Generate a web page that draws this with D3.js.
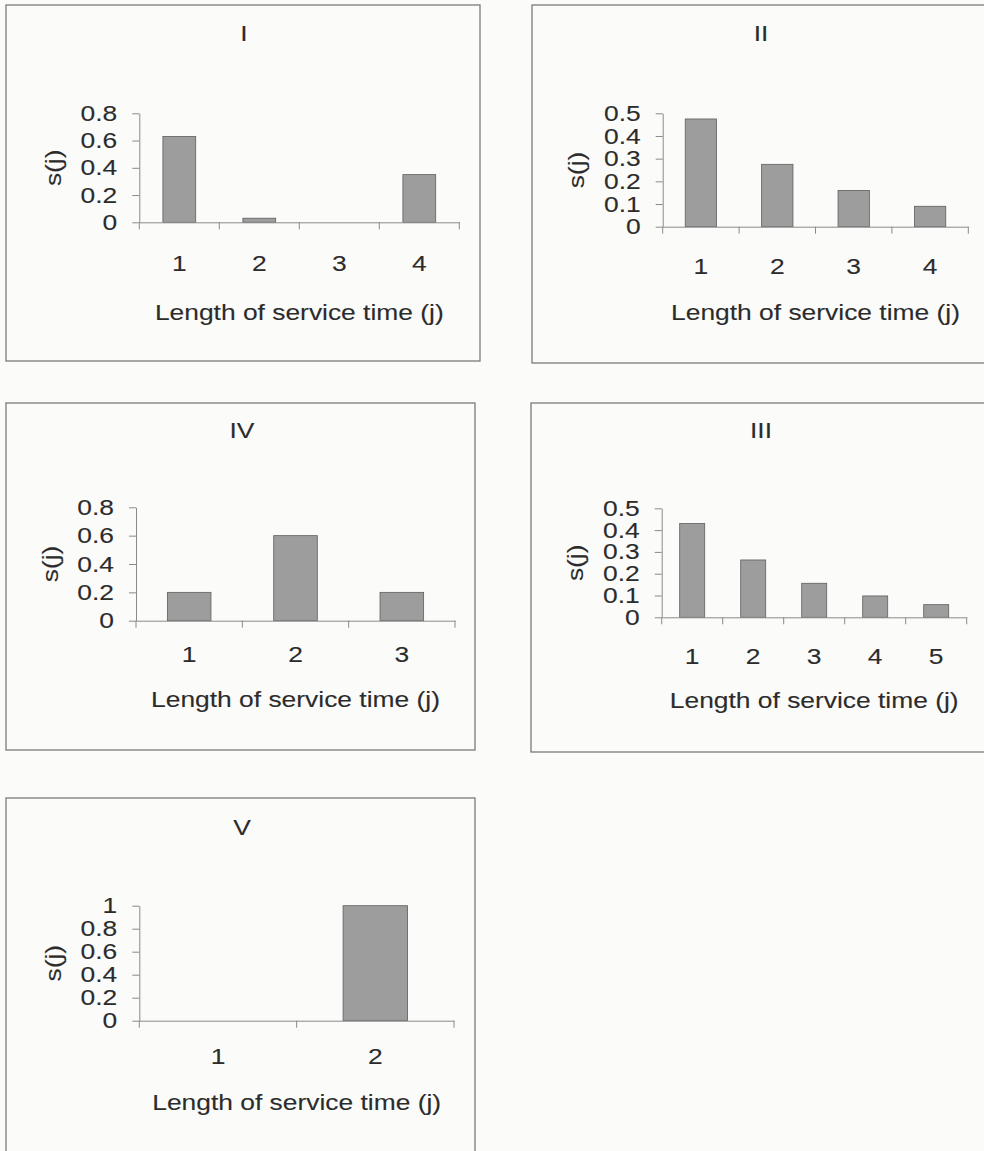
<!DOCTYPE html>
<html>
<head>
<meta charset="utf-8">
<script src="https://cdn.jsdelivr.net/npm/d3@7"></script>
<style>
  html, body { margin: 0; padding: 0; background: #fbfbfa; }
  svg { display: block; }
  text { font-family: "Liberation Sans", Arial, sans-serif; fill: #2b2b2b; stroke: #3a3a3a; stroke-width: 0.12px; }
</style>
</head>
<body>
<svg id="chart" width="984" height="1151"></svg>
<script>
// ---- data ----
const panelTitles = ["I", "II", "III", "IV", "V"];
const categoriesI = ["1", "2", "3", "4"];
const valuesI = [0.63, 0.03, 0, 0.35];
const ticksI = [0, 0.2, 0.4, 0.6, 0.8];

const categoriesII = ["1", "2", "3", "4"];
const valuesII = [0.475, 0.275, 0.16, 0.09];
const ticksII = [0, 0.1, 0.2, 0.3, 0.4, 0.5];

const categoriesIII = ["1", "2", "3", "4", "5"];
const valuesIII = [0.43, 0.263, 0.156, 0.098, 0.058];
const ticksIII = [0, 0.1, 0.2, 0.3, 0.4, 0.5];

const categoriesIV = ["1", "2", "3"];
const valuesIV = [0.2, 0.6, 0.2];
const ticksIV = [0, 0.2, 0.4, 0.6, 0.8];

const categoriesV = ["1", "2"];
const valuesV = [0, 1];
const ticksV = [0, 0.2, 0.4, 0.6, 0.8, 1];

const xAxisTitle = "Length of service time (j)";
const yAxisTitle = "s(j)";

// ---- layout (positions only) ----
const layout = [
  { title: panelTitles[0], cats: categoriesI, vals: valuesI, ticks: ticksI,
    frame: [6, 5, 474, 356], titleX: 244, titleY: 33,
    x0: 139.3, x1: 459.3, yTop: 113.3, yBot: 222.3, labPad: 33, axTitleOff: 90 },
  { title: panelTitles[1], cats: categoriesII, vals: valuesII, ticks: ticksII,
    frame: [532, 5, 460, 358], titleX: 761, titleY: 33,
    x0: 662.7, x1: 968.3, yTop: 113.3, yBot: 226.7, labPad: 32, axTitleOff: 86 },
  { title: panelTitles[2], cats: categoriesIII, vals: valuesIII, ticks: ticksIII,
    frame: [531, 403, 460, 349], titleX: 761, titleY: 430,
    x0: 661.7, x1: 966.7, yTop: 508.3, yBot: 617.3, labPad: 31, axTitleOff: 83 },
  { title: panelTitles[3], cats: categoriesIV, vals: valuesIV, ticks: ticksIV,
    frame: [6, 403, 469, 347], titleX: 242, titleY: 430,
    x0: 136, x1: 455, yTop: 507.3, yBot: 620.7, labPad: 26, axTitleOff: 79 },
  { title: panelTitles[4], cats: categoriesV, vals: valuesV, ticks: ticksV,
    frame: [6, 798, 469, 400], titleX: 242, titleY: 827,
    x0: 139.3, x1: 454, yTop: 905.7, yBot: 1020.7, labPad: 28, axTitleOff: 82 }
];

const svg = d3.select("#chart");
const axisColor = "#8a8a8a";
const fontSize = 22;
const stretchX = 1.2;

// horizontally stretch texts (the reference font is wide)
function stretch(sel, extra) {
  sel.each(function () {
    const t = d3.select(this);
    const tx = +t.attr("x") || 0;
    const ty = +t.attr("y") || 0;
    t.attr("x", 0).attr("y", 0)
      .attr("transform", `translate(${tx},${ty})${extra || ""} scale(${stretchX},1)`);
  });
}

layout.forEach(p => {
  const g = svg.append("g");
  const [fx, fy, fw, fh] = p.frame;
  g.append("rect")
    .attr("x", fx).attr("y", fy).attr("width", fw).attr("height", fh)
    .attr("fill", "none").attr("stroke", "#7a7a7a").attr("stroke-width", 1.3);

  g.append("text")
    .attr("x", p.titleX).attr("y", p.titleY).attr("dy", "0.35em")
    .attr("text-anchor", "middle").attr("font-size", fontSize)
    .text(p.title)
    .call(stretch);

  const x = d3.scaleBand().domain(p.cats).range([p.x0, p.x1]).padding(0);
  const yMax = p.ticks[p.ticks.length - 1];
  const y = d3.scaleLinear().domain([0, yMax]).range([p.yBot, p.yTop]);

  // bars
  const barW = x.bandwidth() * 0.41;
  g.selectAll("rect.bar").data(p.cats.map((c, i) => ({ c, v: p.vals[i] })).filter(d => d.v > 0))
    .join("rect").attr("class", "bar")
    .attr("x", d => x(d.c) + (x.bandwidth() - barW) / 2)
    .attr("width", barW)
    .attr("y", d => y(d.v))
    .attr("height", d => y(0) - y(d.v))
    .attr("fill", "#9d9d9d")
    .attr("stroke", "#5e5e5e").attr("stroke-width", 0.8);

  // y axis
  const yAxis = d3.axisLeft(y).tickValues(p.ticks).tickSize(7).tickSizeOuter(0)
    .tickPadding(15).tickFormat(d3.format("~g"));
  const ya = g.append("g").attr("transform", `translate(${p.x0},0)`).call(yAxis);
  ya.attr("font-size", null).attr("font-family", null);
  ya.select(".domain").attr("stroke", axisColor);
  ya.selectAll(".tick line").attr("stroke", axisColor);
  ya.selectAll(".tick text").attr("font-size", fontSize).attr("fill", "#2b2b2b").call(stretch);

  // x axis labels
  const xAxis = d3.axisBottom(x).tickSize(0).tickSizeOuter(0).tickPadding(p.labPad);
  const xa = g.append("g").attr("transform", `translate(0,${p.yBot})`).call(xAxis);
  xa.attr("font-size", null).attr("font-family", null);
  xa.select(".domain").attr("stroke", axisColor);
  xa.selectAll(".tick text").attr("font-size", fontSize).attr("fill", "#2b2b2b").call(stretch);

  // x boundary ticks
  const bounds = p.cats.map(c => x(c)).concat([x(p.cats[p.cats.length - 1]) + x.step()]);
  g.selectAll("line.bt").data(bounds).join("line").attr("class", "bt")
    .attr("x1", d => d).attr("x2", d => d)
    .attr("y1", p.yBot).attr("y2", p.yBot + 7)
    .attr("stroke", axisColor);

  // axis titles
  g.append("text")
    .attr("x", (p.x0 + p.x1) / 2).attr("y", p.yBot + p.axTitleOff).attr("dy", "0.35em")
    .attr("text-anchor", "middle").attr("font-size", fontSize)
    .text(xAxisTitle)
    .call(stretch);

  g.append("text")
    .attr("x", p.x0 - 86).attr("y", (p.yTop + p.yBot) / 2)
    .attr("dy", "0.35em")
    .attr("text-anchor", "middle").attr("font-size", fontSize)
    .text(yAxisTitle)
    .call(stretch, " rotate(-90)");
});
</script>
</body>
</html>
